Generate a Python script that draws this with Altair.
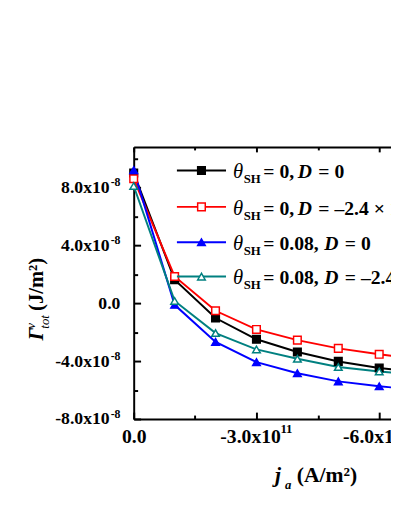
import altair as alt
import pandas as pd

# ---- data ----
ja = [0, -1e11, -2e11, -3e11, -4e11, -5e11, -6e11, -7e11]
black_vals = [9.0e-8, 1.63e-8, -1.02e-8, -2.49e-8, -3.37e-8, -4.02e-8, -4.47e-8, -4.80e-8]
red_vals = [8.6e-8, 1.85e-8, -0.52e-8, -1.81e-8, -2.55e-8, -3.12e-8, -3.53e-8, -3.85e-8]
blue_vals = [9.2e-8, -0.11e-8, -2.67e-8, -4.07e-8, -4.84e-8, -5.40e-8, -5.74e-8, -6.00e-8]
teal_vals = [8.1e-8, 0.16e-8, -2.06e-8, -3.19e-8, -3.84e-8, -4.41e-8, -4.72e-8, -4.95e-8]

keys = ["a", "b", "c", "d"]
theta_labels = ["0", "0", "0.08", "0.08"]
d_labels = ["0", "\u20132.4 \u00d7 10\u207b\u00b3 J/m\u00b2", "0", "\u20132.4 \u00d7 10\u207b\u00b3 J/m\u00b2"]
colors = ["#000000", "#ff0000", "#0000ff", "#008080"]
fills = ["#000000", "#ffffff", "#0000ff", "#ffffff"]
shapes = ["square", "square", "triangle-up", "triangle-up"]

x_label_vals = [0, -3e11, -6e11, -9e11]
x_tick_vals = [0, -1.5e11, -3e11, -4.5e11, -6e11, -7.5e11, -9e11]
y_label_vals = [-8e-8, -4e-8, 0, 4e-8, 8e-8]
y_tick_vals = [-8e-8, -6e-8, -4e-8, -2e-8, 0, 2e-8, 4e-8, 6e-8, 8e-8, 10e-8]
x_exp = "11"
y_exp = "-8"

rows = []
for k, vals in zip(keys, [black_vals, red_vals, blue_vals, teal_vals]):
    for xv, yv in zip(ja, vals):
        rows.append({"series": k, "ja": xv, "E": yv})
df = pd.DataFrame(rows)

W, H = 375, 277
FONT = "Liberation Serif"

xscale = alt.Scale(domain=[0, -9e11], nice=False, zero=False)
yscale = alt.Scale(domain=[-8e-8, 1.08e-7], nice=False, zero=False)

x_label_expr = ("datum.value == 0 ? '0.0' : (datum.value < 0 ? '-' : '') + "
                "format(abs(datum.value)/1e11, '.1f') + 'x10'")
y_label_expr = ("datum.value == 0 ? '' : (datum.value < 0 ? '-' : '') + "
                "format(abs(datum.value)/1e-8, '.1f') + 'x10'")

common_lab = dict(labelFont=FONT, labelFontWeight="bold", labelColor="black",
                  grid=False, title=None, labelFlush=False, labelOverlap=False,
                  labelBound=False)

is_zero = "datum.value == 0"

x_main_axis = alt.Axis(orient="bottom", values=x_label_vals, labelExpr=x_label_expr,
                       ticks=False, tickSize=0, domainColor="black", domainWidth=2,
                       labelPadding=8, labelFontSize=20,
                       labelOffset={"condition": {"test": is_zero, "value": 0}, "value": -6.5},
                       **common_lab)
y_main_axis = alt.Axis(orient="left", values=y_label_vals, labelExpr=y_label_expr,
                       ticks=False, tickSize=0, domainColor="black", domainWidth=2,
                       labelPadding=25, labelFontSize=18, **common_lab)

color_scale = alt.Scale(domain=keys, range=colors)

lines = alt.Chart(df).mark_line(strokeWidth=2).encode(
    x=alt.X("ja:Q", scale=xscale, axis=x_main_axis),
    y=alt.Y("E:Q", scale=yscale, axis=y_main_axis),
    color=alt.Color("series:N", scale=color_scale, legend=None),
)

points = alt.Chart(df).mark_point(filled=True, size=60, strokeWidth=1.5, opacity=1,
                                  fillOpacity=1).encode(
    x=alt.X("ja:Q", scale=xscale, axis=None),
    y=alt.Y("E:Q", scale=yscale, axis=None),
    shape=alt.Shape("series:N", scale=alt.Scale(domain=keys, range=shapes), legend=None),
    fill=alt.Fill("series:N", scale=alt.Scale(domain=keys, range=fills), legend=None),
    stroke=alt.Stroke("series:N", scale=color_scale, legend=None),
)

x_major = "abs(round(datum.value/1.5e11)) % 2 == 0"
y_major = "abs(round(datum.value/2e-8)) % 2 == 0"

tick_common = dict(labels=False, domain=False, tickWidth=2, tickColor="black",
                   grid=False, title=None, ticks=True)

one = pd.DataFrame({"ja": [0.0], "E": [0.0]})

# superscript exponents (and the y "0.0" label)
sup_layer = alt.Chart(one).mark_point(opacity=0).encode(
    x=alt.X("ja:Q", axis=alt.Axis(orient="bottom", values=x_label_vals,
                                  labelExpr=f"datum.value == 0 ? '' : '{x_exp}'",
                                  labelFontSize=13, labelOffset=30, labelPadding=4,
                                  domain=False, ticks=False, tickSize=0, **common_lab)),
    y=alt.Y("E:Q", axis=alt.Axis(orient="left", values=y_label_vals,
                                 labelExpr=f"datum.value == 0 ? '0.0' : '{y_exp}'",
                                 labelFontSize={"condition": {"test": is_zero, "value": 18}, "value": 12},
                                 labelOffset={"condition": {"test": is_zero, "value": 0}, "value": -6},
                                 labelPadding=14, domain=False, ticks=False, tickSize=0,
                                 **common_lab)),
)

inner_ticks = alt.Chart(one).mark_point(opacity=0).encode(
    x=alt.X("ja:Q", axis=alt.Axis(orient="top", offset=-H, values=x_tick_vals,
                                  tickSize={"condition": {"test": x_major, "value": 7}, "value": 4},
                                  **tick_common)),
    y=alt.Y("E:Q", axis=alt.Axis(orient="right", offset=-W, values=y_tick_vals,
                                 tickSize={"condition": {"test": y_major, "value": 7}, "value": 4},
                                 **tick_common)),
)

top_frame = alt.Chart(one).mark_point(opacity=0).encode(
    x=alt.X("ja:Q", axis=alt.Axis(orient="bottom", offset=-H, values=x_tick_vals,
                                  labels=False, domain=True, domainColor="black", domainWidth=2,
                                  tickWidth=2, tickColor="black", grid=False, title=None,
                                  tickSize={"condition": {"test": x_major, "value": 5}, "value": 3})),
    y=alt.Y("E:Q", axis=None),
)

layers = [lines, points, sup_layer, inner_ticks, top_frame]


def txt(s, x, y, size=20, weight="bold", style="normal", angle=0):
    return alt.Chart(one).mark_text(
        text=s, font=FONT, fontSize=size, fontWeight=weight, fontStyle=style,
        align="left", baseline="alphabetic", color="black", angle=angle,
    ).encode(x=alt.value(x), y=alt.value(y))


# legend (inside the plot)
leg_y = [24, 61, 97, 132]
d_x = [167, 167, 194, 194]
for i, k in enumerate(keys):
    ly = leg_y[i]
    sub = pd.DataFrame({"series": [k]})
    layers.append(alt.Chart(sub).mark_rule(color=colors[i], strokeWidth=2).encode(
        x=alt.value(44), x2=alt.value(94), y=alt.value(ly)))
    layers.append(alt.Chart(sub).mark_point(shape=shapes[i], size=60, fill=fills[i],
                                            stroke=colors[i], strokeWidth=1.5, opacity=1,
                                            fillOpacity=1).encode(
        x=alt.value(69), y=alt.value(ly)))
    base = ly + 8
    layers.append(txt("\u03b8", 101, base, size=21, weight="normal", style="italic"))
    layers.append(txt("SH", 112, base + 5, size=13))
    layers.append(txt("= " + theta_labels[i] + ",", 132, base))
    layers.append(txt("D", d_x[i], base, style="italic"))
    layers.append(txt("= " + d_labels[i], d_x[i] + 21, base))

# axis titles
layers.append(txt("j", 144, 341, size=22, style="italic"))
layers.append(txt("a", 154, 348, size=13, style="italic"))
layers.append(txt("(A/m\u00b2)", 166, 341, size=22))

layers.append(txt("\u0393", -92, 197, size=21, style="italic", angle=270))
layers.append(txt("v", -101, 185, size=13, weight="normal", style="italic", angle=270))
layers.append(txt("tot", -86, 185, size=13, weight="normal", style="italic", angle=270))
layers.append(txt("(J/m\u00b2)", -92, 167, size=21, angle=270))

chart = alt.layer(*layers).resolve_axis(x="independent", y="independent").properties(
    width=W, height=H,
    padding={"left": 128, "top": 137, "right": -113, "bottom": 80},
    autosize=alt.AutoSizeParams(type="none"),
).configure_view(stroke=None).configure(background="white")

chart.save("out.html", embed_options={"renderer": "svg", "actions": False})
